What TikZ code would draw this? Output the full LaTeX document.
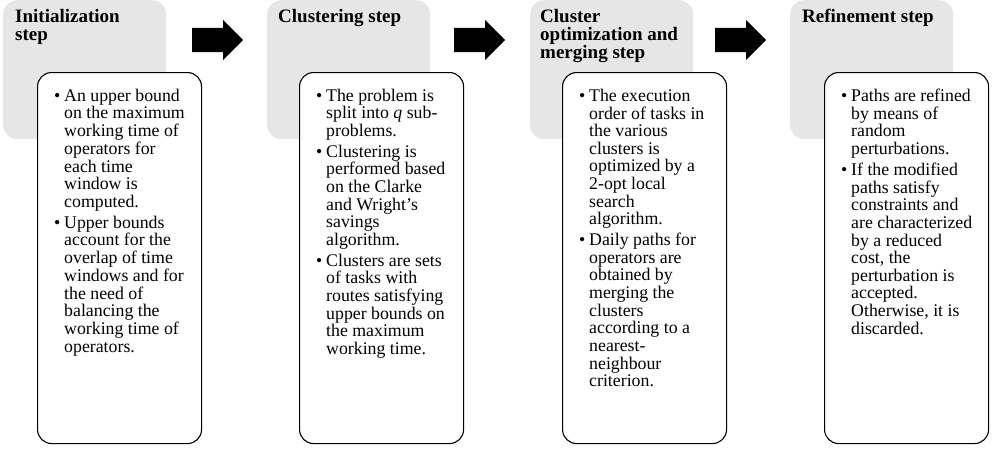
\documentclass[tikz,border=0pt]{standalone}
\usepackage{fontspec}
\setmainfont{Liberation Serif}
\usetikzlibrary{shapes.arrows,positioning}
\definecolor{stepgray}{HTML}{E6E6E6}

\begin{document}
\begin{tikzpicture}[x=1pt, y=-1pt,
    stepbg/.style={fill=stepgray, rounded corners=14pt, minimum width=163pt, minimum height=139pt, inner sep=0pt, anchor=north west},
    stepbox/.style={draw, line width=1.1pt, fill=white, rounded corners=14pt, minimum width=164pt, minimum height=371pt, inner sep=0pt, anchor=north west},
    steptitle/.style={anchor=north west, inner sep=0pt, align=left, font=\bfseries\fontsize{19}{18}\selectfont},
    steptext/.style={anchor=north west, inner sep=0pt, font=\fontsize{17.8}{17.6}\selectfont},
    steparrow/.style={single arrow, fill=black, minimum height=51pt, inner xsep=0pt, inner ysep=12pt, single arrow head extend=8pt, anchor=tail}]
  \useasboundingbox (0,0) rectangle (993,448);
  \node[stepbg] (init) at (3,0) {};
  \node[stepbg] (clust) at (267,0) {};
  \node[stepbg] (merge) at (530,0) {};
  \node[stepbg] (refine) at (790,0) {};
  \node[steptitle] (initT) at ([shift={(12,9)}]init.north west) {Initialization\\step};
  \node[steptitle] (clustT) at ([shift={(11,9)}]clust.north west) {Clustering step};
  \node[steptitle] (mergeT) at ([shift={(10,9)}]merge.north west) {Cluster\\optimization and\\merging step};
  \node[steptitle] (refineT) at ([shift={(12,9)}]refine.north west) {Refinement step};
  \node[steparrow] (arr1) at (192,40) {};
  \node[steparrow] (arr2) at (454,40) {};
  \node[steparrow] (arr3) at (715,40) {};
  \node[stepbox] (initB) at (37,72) {};
  \node[stepbox] (clustB) at (299,72) {};
  \node[stepbox] (mergeB) at (562,72) {};
  \node[stepbox] (refineB) at (824,72) {};
  % bullet lists
  \node[steptext] (initL) at ([shift={(17,16.7)}]initB.north west) {%
    \begin{tabular}{@{}p{10pt}@{}l@{}}
      \textbullet & An upper bound\\
      & on the maximum\\
      & working time of\\
      & operators for\\
      & each time\\
      & window is\\
      & computed.\\[3pt]
      \textbullet & Upper bounds\\
      & account for the\\
      & overlap of time\\
      & windows and for\\
      & the need of\\
      & balancing the\\
      & working time of\\
      & operators.
    \end{tabular}};
  \node[steptext] (clustL) at ([shift={(17,16.7)}]clustB.north west) {%
    \begin{tabular}{@{}p{10pt}@{}l@{}}
      \textbullet & The problem is\\
      & split into \textit{q} sub-\\
      & problems.\\[3pt]
      \textbullet & Clustering is\\
      & performed based\\
      & on the Clarke\\
      & and Wright’s\\
      & savings\\
      & algorithm.\\[3pt]
      \textbullet & Clusters are sets\\
      & of tasks with\\
      & routes satisfying\\
      & upper bounds on\\
      & the maximum\\
      & working time.
    \end{tabular}};
  \node[steptext] (mergeL) at ([shift={(17,16.7)}]mergeB.north west) {%
    \begin{tabular}{@{}p{10pt}@{}l@{}}
      \textbullet & The execution\\
      & order of tasks in\\
      & the various\\
      & clusters is\\
      & optimized by a\\
      & 2-opt local\\
      & search\\
      & algorithm.\\[3pt]
      \textbullet & Daily paths for\\
      & operators are\\
      & obtained by\\
      & merging the\\
      & clusters\\
      & according to a\\
      & nearest-\\
      & neighbour\\
      & criterion.
    \end{tabular}};
  \node[steptext] (refineL) at ([shift={(17,16.7)}]refineB.north west) {%
    \begin{tabular}{@{}p{10pt}@{}l@{}}
      \textbullet & Paths are refined\\
      & by means of\\
      & random\\
      & perturbations.\\[3pt]
      \textbullet & If the modified\\
      & paths satisfy\\
      & constraints and\\
      & are characterized\\
      & by a reduced\\
      & cost, the\\
      & perturbation is\\
      & accepted.\\
      & Otherwise, it is\\
      & discarded.
    \end{tabular}};
\end{tikzpicture}
\end{document}
